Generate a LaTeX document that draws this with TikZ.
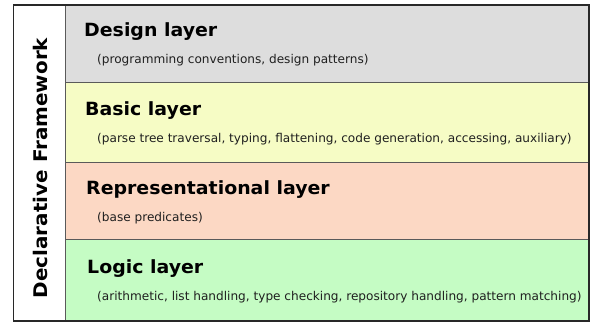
\documentclass[tikz,border=0pt]{standalone}
\usepackage{fontspec}
\setmainfont{DejaVu Sans}
\definecolor{designbg}{RGB}{221,221,221}
\definecolor{basicbg}{RGB}{246,252,197}
\definecolor{reprbg}{RGB}{252,216,196}
\definecolor{logicbg}{RGB}{197,252,196}
\definecolor{framecol}{RGB}{40,40,40}
\definecolor{divcol}{RGB}{90,90,90}
\begin{document}
\begin{tikzpicture}[x=1pt,y=-1pt,
  title/.style={anchor=base west, inner sep=0pt, font=\fontsize{18.2}{20}\selectfont\bfseries},
  sub/.style={anchor=base west, inner sep=0pt, font=\fontsize{12.1}{14}\selectfont, text=black!88},
  divider/.style={draw=divcol, line width=1pt},
  frame/.style={draw=framecol, line width=1.6pt}]
\useasboundingbox (0,0) rectangle (592,325);
% backgrounds
\fill[white] (13.5,5) rectangle (65,321);
\fill[designbg] (65,5) rectangle (589,82);
\fill[basicbg] (65,82) rectangle (589,162);
\fill[reprbg] (65,162) rectangle (589,239);
\fill[logicbg] (65,239) rectangle (589,321);
% dividers
\draw[divider] (65,82) -- (589,82);
\draw[divider] (65,162) -- (589,162);
\draw[divider] (65,239) -- (589,239);
\draw[divider] (65,5) -- (65,321);
% frame
\draw[frame] (13.5,5) rectangle (589,321);
\draw[draw=framecol, line width=2.2pt] (589,5) -- (589,321) -- (13.5,321);
% vertical label
\node[rotate=90, anchor=base, inner sep=0pt, font=\fontsize{18.8}{20}\selectfont\bfseries] (fw) at (47,168) {\scalebox{1.06}[1]{Declarative Framework}};
% titles
\node[title] (dt) at (84,36) {\scalebox{1.04}[1]{Design layer}};
\node[sub] (ds) at (97,63) {(programming conventions, design patterns)};
\node[title] (bt) at (85,115) {\scalebox{1.04}[1]{Basic layer}};
\node[sub] (bs) at (97,142) {(parse tree traversal, typing, flattening, code generation, accessing, auxiliary)};
\node[title] (rt) at (86,194) {\scalebox{1.04}[1]{Representational layer}};
\node[sub] (rs) at (97,221) {(base predicates)};
\node[title] (lt) at (87,273) {\scalebox{1.04}[1]{Logic layer}};
\node[sub] (ls) at (97,300) {(arithmetic, list handling, type checking, repository handling, pattern matching)};
\end{tikzpicture}
\end{document}
